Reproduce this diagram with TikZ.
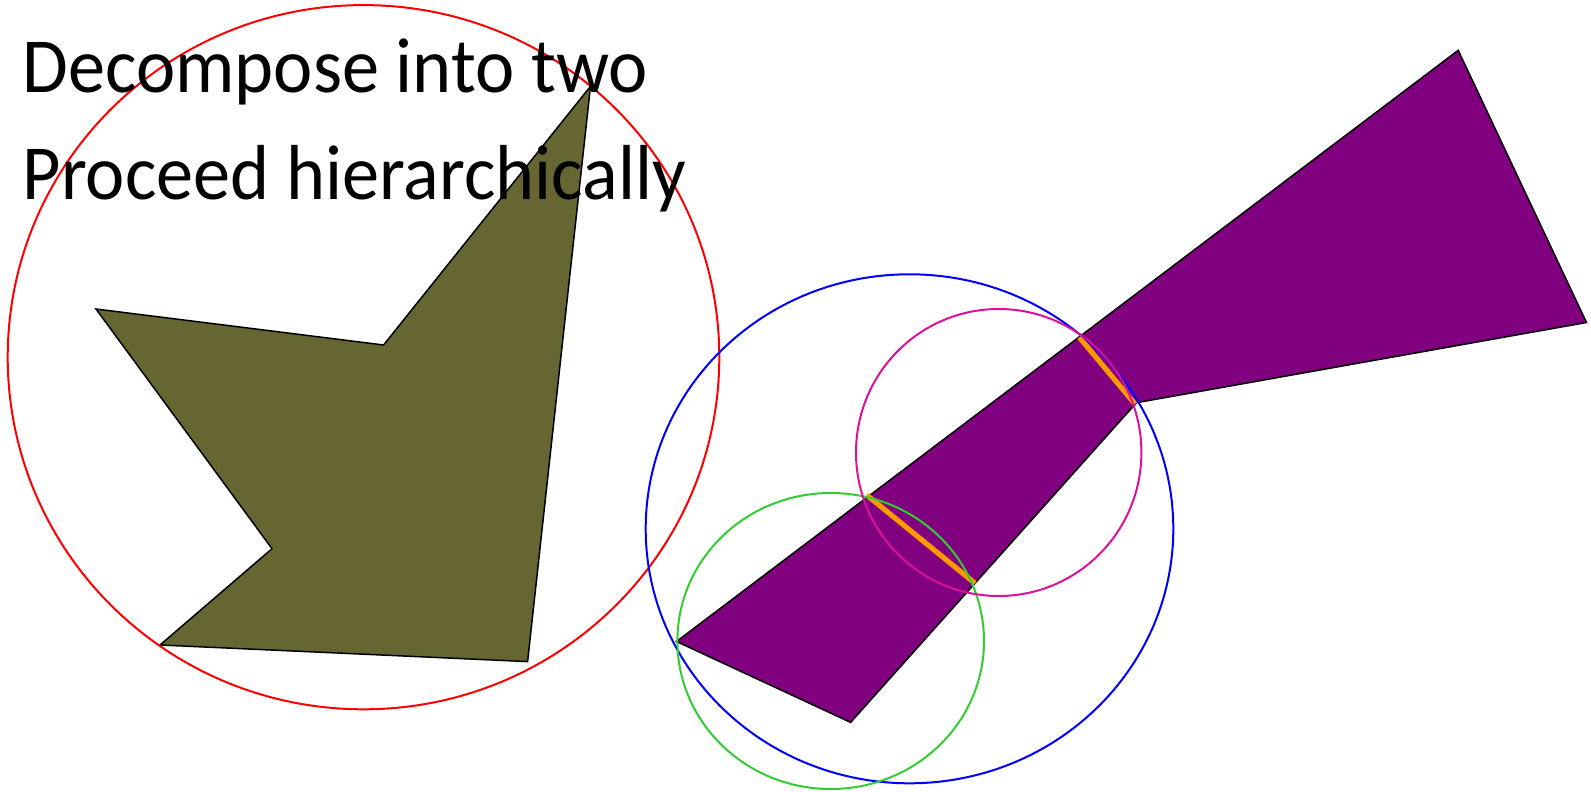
\documentclass[tikz,border=0pt]{standalone}
\usepackage{fontspec}
\setmainfont{Carlito}
\definecolor{olivefill}{RGB}{102,102,51}
\definecolor{purplefill}{RGB}{128,0,128}
\definecolor{orangeseg}{RGB}{255,153,0}
\definecolor{magentac}{RGB}{221,17,153}
\definecolor{greenc}{RGB}{51,204,51}
\tikzset{
  shapeoutline/.style={draw=black,line width=0.75pt,line join=miter},
  ringline/.style={line width=1pt},
  cutline/.style={draw=orangeseg,line width=2.6pt},
  caption/.style={anchor=base west,inner sep=0pt,font=\fontsize{39}{47}\selectfont,xscale=0.953,transform shape}
}
\begin{document}
\begin{tikzpicture}[x=0.5pt,y=-0.5pt]
\useasboundingbox (0,0) rectangle (1591,792);
% olive polygon
\coordinate (o1) at (96,309);
\coordinate (o2) at (383.6,345);
\coordinate (o3) at (590.5,86.3);
\coordinate (o4) at (527.6,661.6);
\coordinate (o5) at (160,645);
\coordinate (o6) at (272,548.7);
\fill[olivefill] (o1)--(o2)--(o3)--(o4)--(o5)--(o6)--cycle;
\draw[shapeoutline] (o1)--(o2)--(o3)--(o4)--(o5)--(o6)--cycle;
% purple polygon
\coordinate (p1) at (676.5,641.5);
\coordinate (p2) at (1458.2,50.3);
\coordinate (p3) at (1586.5,322.5);
\coordinate (p4) at (1136.5,402.7);
\coordinate (p5) at (850.6,722.4);
\fill[purplefill] (p1)--(p2)--(p3)--(p4)--(p5)--cycle;
\draw[shapeoutline] (p1)--(p2)--(p3)--(p4)--(p5)--cycle;
% orange cuts
\coordinate (c1a) at (866.7,495);
\coordinate (c1b) at (975,583.3);
\coordinate (c2a) at (1079.3,337.3);
\coordinate (c2b) at (1135,404);
\draw[cutline] (c1a)--(c1b);
\draw[cutline] (c2a)--(c2b);
% circles
\draw[ringline,red] (363.5,357.2) ellipse [x radius=355.8,y radius=352.1];
\draw[ringline,blue] (909.5,528.8) ellipse [x radius=263.8,y radius=254.5];
\draw[ringline,greenc] (830.7,641) ellipse [x radius=153.3,y radius=148];
\draw[ringline,magentac] (998.7,452.5) ellipse [x radius=142.7,y radius=143.5];
% text
\node[caption] (t1) at (22.3,93) {Decompose into two};
\node[caption] (t2) at (22.3,199) {Proceed hierarchically};
\end{tikzpicture}
\end{document}
